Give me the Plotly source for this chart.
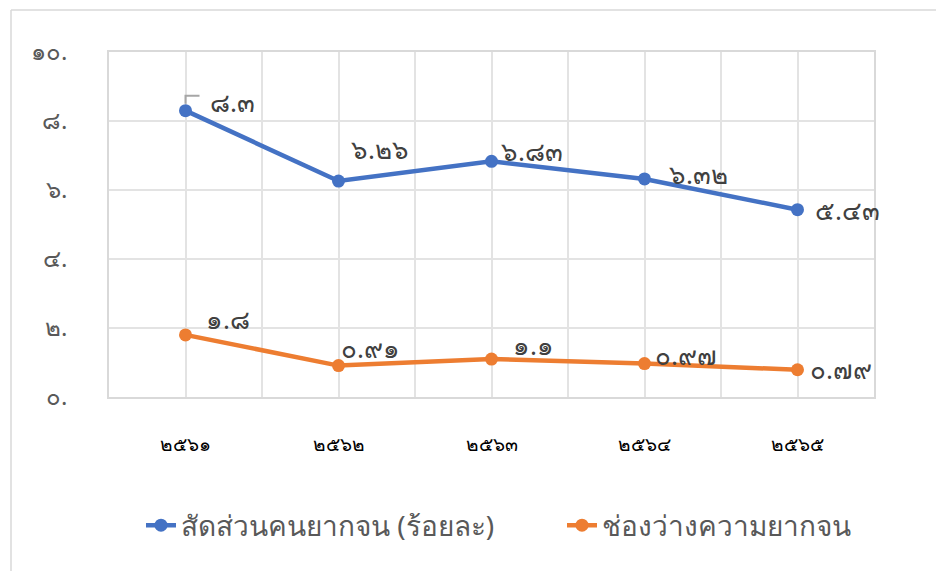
import plotly.graph_objects as go

years = ["๒๕๖๑", "๒๕๖๒", "๒๕๖๓", "๒๕๖๔", "๒๕๖๕"]
series1_name = "สัดส่วนคนยากจน (ร้อยละ)"
series2_name = "ช่องว่างความยากจน"
series1 = [8.3, 6.26, 6.83, 6.32, 5.43]
series2 = [1.8, 0.91, 1.1, 0.97, 0.79]
series1_labels = ["๘.๓", "๖.๒๖", "๖.๘๓", "๖.๓๒", "๕.๔๓"]
series2_labels = ["๑.๘", "๐.๙๑", "๑.๑", "๐.๙๗", "๐.๗๙"]
y_ticks = [0, 2, 4, 6, 8, 10]
y_ticktext = ["๐.", "๒.", "๔.", "๖.", "๘.", "๑๐."]

xpos = list(range(len(years)))
BLUE = "#4472C4"
ORANGE = "#ED7D31"
FONT = "Noto Sans, DejaVu Sans, sans-serif"

fig = go.Figure()
fig.add_trace(go.Scatter(x=xpos, y=series1, name=series1_name, mode="lines+markers",
                         line=dict(color=BLUE, width=4.5), marker=dict(color=BLUE, size=13),
                         legend="legend"))
fig.add_trace(go.Scatter(x=xpos, y=series2, name=series2_name, mode="lines+markers",
                         line=dict(color=ORANGE, width=4.5), marker=dict(color=ORANGE, size=13),
                         legend="legend2"))

s1_off = [(22, 9), (10, 32), (7, 10), (22, 5), (15, 0)]
s2_off = [(18, 16), (0, 18), (19, 14), (8, 9), (10, 1)]
annotations = []
for i, (v, t) in enumerate(zip(series1, series1_labels)):
    annotations.append(dict(x=xpos[i], y=v, text=t, showarrow=False, xanchor="left", yanchor="middle",
                            xshift=s1_off[i][0], yshift=s1_off[i][1],
                            font=dict(size=26, color="#404040", family=FONT)))
for i, (v, t) in enumerate(zip(series2, series2_labels)):
    annotations.append(dict(x=xpos[i], y=v, text=t, showarrow=False, xanchor="left", yanchor="middle",
                            xshift=s2_off[i][0], yshift=s2_off[i][1],
                            font=dict(size=26, color="#404040", family=FONT)))
fig.update_layout(annotations=annotations)

# leader line for first label
fig.add_shape(type="path", xref="x", yref="y", xsizemode="pixel", ysizemode="pixel",
              xanchor=xpos[0], yanchor=series1[0], path="M 0 7 L 0 15 L 14 15",
              line=dict(color="#A6A6A6", width=2))

L, T = 101, 44
legend_font = dict(size=28, color="#595959", family=FONT)
fig.update_layout(
    width=944, height=571,
    margin=dict(l=L, r=944 - L - 765, t=T, b=571 - T - 345),
    paper_bgcolor="white", plot_bgcolor="white",
    font=dict(family=FONT, color="#595959"),
    showlegend=True,
    legend=dict(orientation="h", x=(140 - 108) / 765, xanchor="left", y=-0.30, yanchor="top",
                font=legend_font),
    legend2=dict(orientation="h", x=(561 - 108) / 765, xanchor="left", y=-0.30, yanchor="top",
                 font=legend_font),
    xaxis=dict(range=[-0.5, 4.5], tickvals=xpos, ticktext=years, showgrid=True,
               gridcolor="#E3E3E3", gridwidth=1.5, zeroline=False, showline=True,
               linecolor="#D9D9D9", linewidth=1.5, mirror=True, ticks="",
               tickfont=dict(size=19, color="#000000", family=FONT), ticklabelstandoff=29,
               minor=dict(dtick=0.5, tick0=-0.5, showgrid=True, gridcolor="#E3E3E3", gridwidth=1.5)),
    yaxis=dict(range=[0, 10], tickvals=y_ticks, ticktext=y_ticktext, showgrid=True,
               gridcolor="#E3E3E3", gridwidth=1.5, zeroline=False, showline=True,
               linecolor="#D9D9D9", linewidth=1.5, mirror=True, ticks="",
               tickfont=dict(size=24, color="#595959", family=FONT), ticklabelstandoff=35),
)

# chart-area border (left and top)
bx = (10 - 108) / 765
by = (397 - 10) / 345
fig.add_shape(type="line", xref="paper", yref="paper", x0=bx, x1=bx,
              y0=by, y1=-(571 - 397) / 345 - 0.1, line=dict(color="#D9D9D9", width=1.5))
fig.add_shape(type="line", xref="paper", yref="paper", x0=bx, x1=(944 - 108) / 765 + 0.1,
              y0=by, y1=by, line=dict(color="#D9D9D9", width=1.5))

fig.write_html("out.html")
